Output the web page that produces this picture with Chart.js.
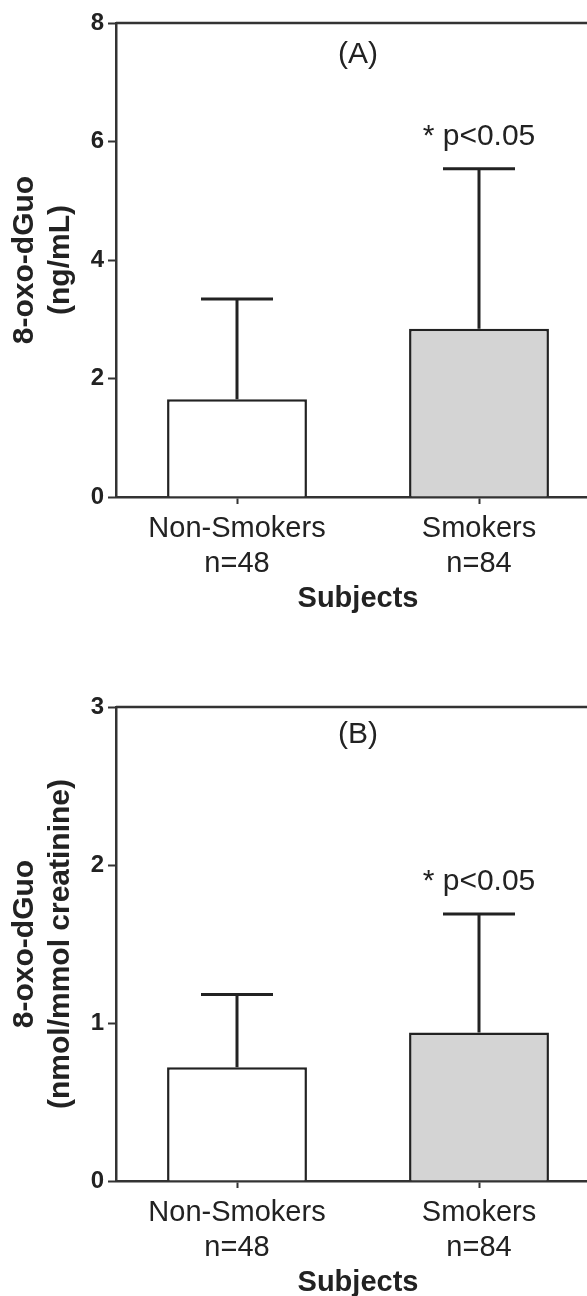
<!DOCTYPE html>
<html>
<head>
<meta charset="utf-8">
<script src="https://cdn.jsdelivr.net/npm/chart.js@4"></script>
<style>
  body { margin: 0; background: #fff; overflow: hidden; width: 587px; height: 1296px; }
  canvas { display: block; }
</style>
</head>
<body>
<canvas id="chartA" width="600" height="640"></canvas>
<canvas id="chartB" width="600" height="660"></canvas>
<script>
// data
const categories = [["Non-Smokers", "n=48"], ["Smokers", "n=84"]];
const meanA = [1.65, 2.84];
const sdA = [1.69, 2.70];
const meanB = [0.72, 0.94];
const sdB = [0.46, 0.75];
const yTitleA = ["8-oxo-dGuo", "(ng/mL)"];
const yTitleB = ["8-oxo-dGuo", "(nmol/mmol creatinine)"];
const xTitle = "Subjects";
const panelLabels = ["(A)", "(B)"];
const sigText = "* p<0.05";
const barColors = ["#ffffff", "#d4d4d4"];

const FONT = "'Liberation Sans', Arial, sans-serif";
const INK = "#222";

// error bars + top frame line + annotations
const extras = {
  id: "extras",
  afterDatasetsDraw(chart, args, opts) {
    const ctx = chart.ctx;
    const y = chart.scales.y;
    const meta = chart.getDatasetMeta(0);
    const ca = chart.chartArea;
    ctx.save();
    ctx.strokeStyle = INK;
    ctx.lineWidth = 3;
    meta.data.forEach((bar, i) => {
      const top = y.getPixelForValue(opts.mean[i] + opts.sd[i]);
      ctx.beginPath();
      ctx.moveTo(bar.x, bar.y);
      ctx.lineTo(bar.x, top);
      ctx.moveTo(bar.x - 36, top);
      ctx.lineTo(bar.x + 36, top);
      ctx.stroke();
    });

    // top line of the frame
    ctx.strokeStyle = "#333";
    ctx.lineWidth = 2.5;
    ctx.beginPath();
    ctx.moveTo(ca.left, ca.top);
    ctx.lineTo(ca.right, ca.top);
    ctx.stroke();

    ctx.fillStyle = INK;
    ctx.textAlign = "center";
    ctx.textBaseline = "middle";
    ctx.font = "30px " + FONT;
    ctx.fillText(opts.label, ca.left + 242, ca.top + opts.labelDy);

    const last = meta.data[1];
    const errTop = y.getPixelForValue(opts.mean[1] + opts.sd[1]);
    ctx.font = "30px " + FONT;
    ctx.fillText(sigText, last.x, errTop - 32);
    ctx.restore();
  }
};

function makeChart(id, mean, sd, yTitle, yMax, step, label, labelDy, padTop, padBottom) {
  return new Chart(document.getElementById(id), {
    type: "bar",
    data: {
      labels: categories,
      datasets: [{
        data: mean,
        backgroundColor: barColors,
        borderColor: INK,
        borderWidth: 2.5,
        borderSkipped: "bottom",
        categoryPercentage: 1,
        barPercentage: 0.578
      }]
    },
    options: {
      responsive: false,
      animation: false,
      layout: { padding: { top: padTop, bottom: padBottom, left: 0, right: 0 } },
      plugins: {
        legend: { display: false },
        tooltip: { enabled: false },
        extras: { mean: mean, sd: sd, label: label, labelDy: labelDy }
      },
      scales: {
        x: {
          afterFit(s) { s.height = 119; },
          grid: { drawOnChartArea: false, offset: false, tickLength: 7, tickColor: "#333", tickWidth: 2 },
          border: { color: "#333", width: 2.5 },
          ticks: { color: INK, font: { family: FONT, size: 29 }, padding: 8, maxRotation: 0 },
          title: { display: true, text: xTitle, color: INK, font: { family: FONT, size: 29, weight: "bold" }, padding: { top: 0, bottom: 0 } }
        },
        y: {
          min: 0,
          max: yMax,
          afterFit(s) { s.width = 116; },
          grid: { drawOnChartArea: false, tickLength: 8, tickColor: "#333", tickWidth: 2 },
          border: { color: "#333", width: 2.5 },
          ticks: { stepSize: step, color: INK, font: { family: FONT, size: 24, weight: "bold" }, padding: 4 },
          title: { display: true, text: yTitle, color: INK, font: { family: FONT, size: 30, weight: "bold", lineHeight: 1.2 }, padding: { top: 7, bottom: 0 } }
        }
      }
    },
    plugins: [extras]
  });
}

makeChart("chartA", meanA, sdA, yTitleA, 8, 2, panelLabels[0], 32, 23, 24);
makeChart("chartB", meanB, sdB, yTitleB, 3, 1, panelLabels[1], 28, 67, 0);
</script>
</body>
</html>
